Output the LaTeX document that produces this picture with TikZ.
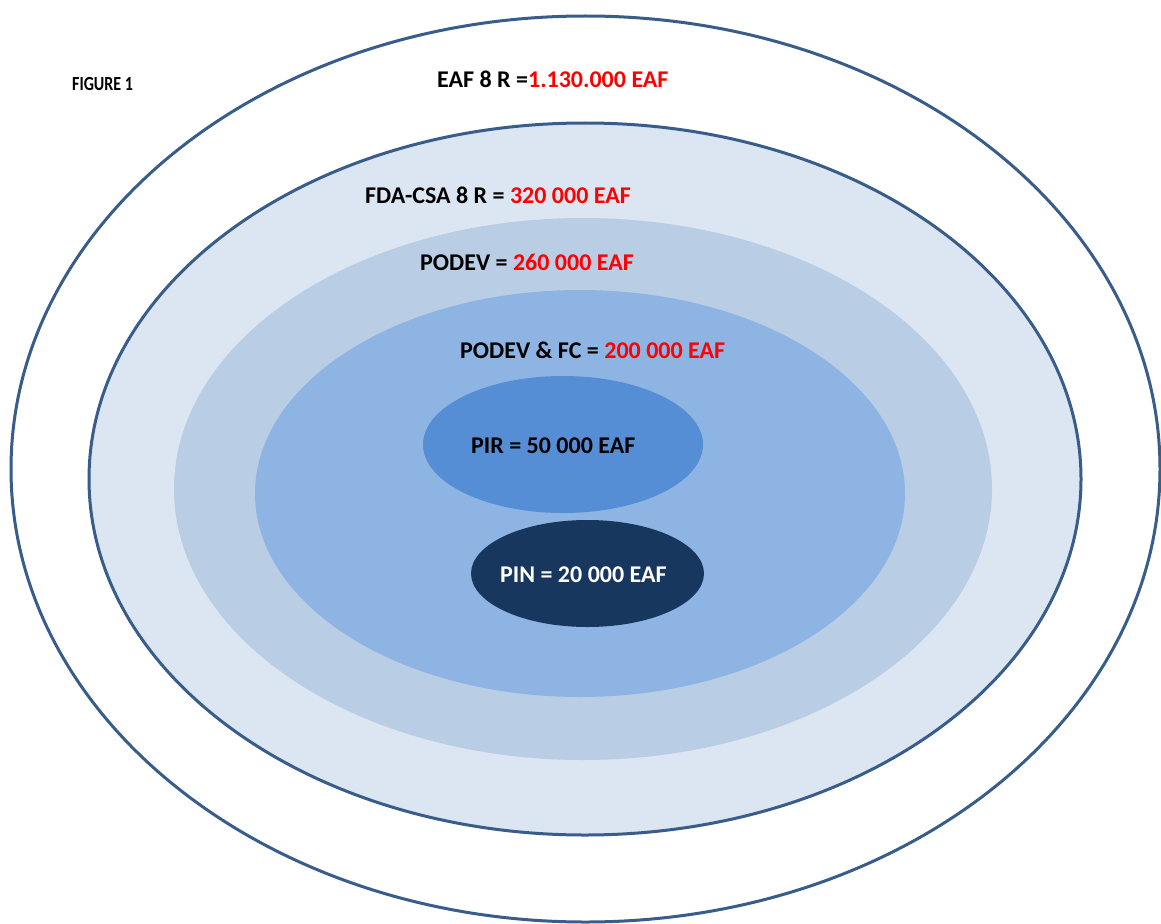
\documentclass[tikz,border=0pt]{standalone}
\usepackage{fontspec}
\setmainfont{Carlito}
\definecolor{outl}{HTML}{385D8A}
\definecolor{fillA}{HTML}{DCE6F2}
\definecolor{fillB}{HTML}{B9CDE5}
\definecolor{fillC}{HTML}{8EB4E3}
\definecolor{fillD}{HTML}{558ED5}
\definecolor{fillE}{HTML}{17375E}
\definecolor{redtxt}{HTML}{FF0000}
\begin{document}
\begin{tikzpicture}[x=1pt,y=-1pt,
  ring/.style={draw=outl,line width=3pt},
  lbl/.style={anchor=base west,inner sep=0pt,font=\fontsize{24}{28}\selectfont\bfseries},
  num/.style={text=redtxt}]
\useasboundingbox[fill=white] (0,0) rectangle (1161,923);
% outer ring
\path[ring] (585.5,469) ellipse [x radius=574.5pt, y radius=453pt];
% FDA-CSA ellipse
\path[ring,fill=fillA] (585,479) ellipse [x radius=496pt, y radius=356pt];
% PODEV ellipse
\path[fill=fillB] (583,489) ellipse [x radius=409pt, y radius=271pt];
% PODEV & FC ellipse
\path[fill=fillC] (580,493.5) ellipse [x radius=325pt, y radius=203.5pt];
% PIR ellipse
\path[fill=fillD] (563,444.5) ellipse [x radius=140pt, y radius=68.5pt];
% PIN ellipse
\path[fill=fillE] (587.5,573.5) ellipse [x radius=116.5pt, y radius=53.5pt];
% labels
\node[anchor=base west,inner sep=0pt,font=\fontsize{20}{24}\selectfont\bfseries,xscale=0.8] (fig) at (72,91) {FIGURE 1};
\node[lbl] (eaf) at (437,88) {EAF 8 R =\textcolor{redtxt}{1.130.000 EAF}};
\node[lbl] (fda) at (365,203) {FDA-CSA 8 R = \textcolor{redtxt}{320 000 EAF}};
\node[lbl] (podev) at (420,270) {PODEV = \textcolor{redtxt}{260 000 EAF}};
\node[lbl] (podevfc) at (460,358) {PODEV \& FC = \textcolor{redtxt}{200 000 EAF}};
\node[lbl] (pir) at (471,453) {PIR = 50 000 EAF};
\node[lbl,text=white] (pin) at (500,582) {PIN = 20 000 EAF};
\end{tikzpicture}
\end{document}
